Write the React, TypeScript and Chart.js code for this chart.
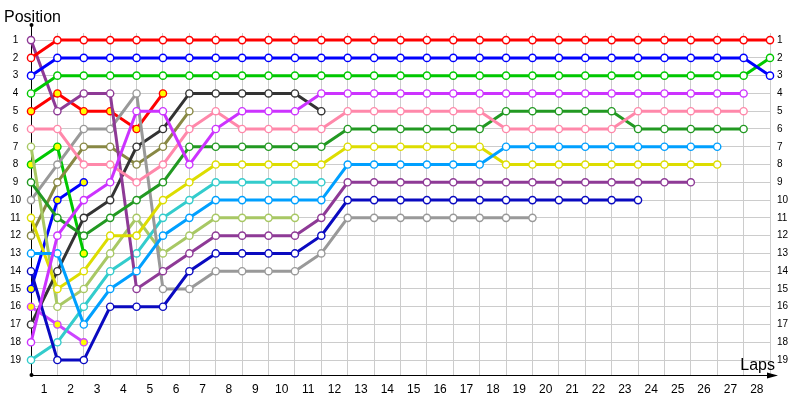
import React, { useEffect, useRef } from "react";
import { Chart, registerables } from "chart.js";

Chart.register(...registerables);

// ---------- DATA ----------
const lapNumbers = [0, 1, 2, 3, 4, 5, 6, 7, 8, 9, 10, 11, 12, 13, 14, 15, 16, 17, 18, 19, 20, 21, 22, 23, 24, 25, 26, 27, 28];
const lapLabels = ["1", "2", "3", "4", "5", "6", "7", "8", "9", "10", "11", "12", "13", "14", "15", "16", "17", "18", "19", "20", "21", "22", "23", "24", "25", "26", "27", "28"];
const positionTicks = [1, 2, 3, 4, 5, 6, 7, 8, 9, 10, 11, 12, 13, 14, 15, 16, 17, 18, 19];

// positions per lap (index 0 = grid)
const redDriver = [2, 1, 1, 1, 1, 1, 1, 1, 1, 1, 1, 1, 1, 1, 1, 1, 1, 1, 1, 1, 1, 1, 1, 1, 1, 1, 1, 1, 1];
const blueDriver = [3, 2, 2, 2, 2, 2, 2, 2, 2, 2, 2, 2, 2, 2, 2, 2, 2, 2, 2, 2, 2, 2, 2, 2, 2, 2, 2, 2, 3];
const greenDriver = [4, 3, 3, 3, 3, 3, 3, 3, 3, 3, 3, 3, 3, 3, 3, 3, 3, 3, 3, 3, 3, 3, 3, 3, 3, 3, 3, 3, 2];
const violetDriver = [18, 12, 10, 9, 5, 5, 8, 6, 5, 5, 5, 4, 4, 4, 4, 4, 4, 4, 4, 4, 4, 4, 4, 4, 4, 4, 4, 4];
const pinkDriver = [6, 6, 8, 8, 9, 8, 6, 5, 6, 6, 6, 6, 5, 5, 5, 5, 5, 5, 6, 6, 6, 6, 6, 5, 5, 5, 5, 5];
const darkGreenDriver = [9, 11, 12, 11, 10, 9, 7, 7, 7, 7, 7, 7, 6, 6, 6, 6, 6, 6, 5, 5, 5, 5, 5, 6, 6, 6, 6, 6];
const skyBlueDriver = [13, 13, 17, 15, 14, 12, 11, 10, 10, 10, 10, 10, 8, 8, 8, 8, 8, 8, 7, 7, 7, 7, 7, 7, 7, 7, 7];
const yellowDriver = [11, 15, 14, 12, 12, 10, 9, 8, 8, 8, 8, 8, 7, 7, 7, 7, 7, 7, 8, 8, 8, 8, 8, 8, 8, 8, 8];
const purpleDriver = [1, 5, 4, 4, 15, 14, 13, 12, 12, 12, 12, 11, 9, 9, 9, 9, 9, 9, 9, 9, 9, 9, 9, 9, 9, 9];
const navyDriver = [14, 19, 19, 16, 16, 16, 14, 13, 13, 13, 13, 12, 10, 10, 10, 10, 10, 10, 10, 10, 10, 10, 10, 10];
const grayDriver = [10, 8, 6, 6, 4, 15, 15, 14, 14, 14, 14, 13, 11, 11, 11, 11, 11, 11, 11, 11];
const blackDriver = [17, 14, 11, 10, 7, 6, 4, 4, 4, 4, 4, 5];
const tealDriver = [19, 18, 16, 14, 13, 11, 10, 9, 9, 9, 9, 9];
const limeDriver = [7, 16, 15, 13, 11, 13, 12, 11, 11, 11, 11];
const oliveDriver = [12, 9, 7, 7, 8, 7, 5];
const redRetired = [5, 4, 5, 5, 6, 4];
const greenRetired = [8, 7, 13];
const blueRetired = [15, 10, 9];
const violetRetired = [16, 17, 18];

// ---------- STYLES ----------
const series = [
  { data: redDriver, color: "#ff0000", retired: false },
  { data: blueDriver, color: "#0000ff", retired: false },
  { data: greenDriver, color: "#00c800", retired: false },
  { data: violetDriver, color: "#cc33ff", retired: false },
  { data: pinkDriver, color: "#ff88aa", retired: false },
  { data: darkGreenDriver, color: "#229922", retired: false },
  { data: skyBlueDriver, color: "#00a0ff", retired: false },
  { data: yellowDriver, color: "#dddd00", retired: false },
  { data: purpleDriver, color: "#8e3a96", retired: false },
  { data: navyDriver, color: "#0a0ac0", retired: false },
  { data: grayDriver, color: "#999999", retired: false },
  { data: blackDriver, color: "#333333", retired: false },
  { data: tealDriver, color: "#33cccc", retired: false },
  { data: limeDriver, color: "#a8c864", retired: false },
  { data: oliveDriver, color: "#888844", retired: false },
  { data: redRetired, color: "#ff0000", retired: true },
  { data: greenRetired, color: "#00c800", retired: true },
  { data: blueRetired, color: "#0000ff", retired: true },
  { data: violetRetired, color: "#cc44ff", retired: true },
];

const GRID = "#cccccc";
const FONT = "'Liberation Sans', Arial, sans-serif";

const decorPlugin = {
  id: "decor",
  afterDraw(chart: any) {
    const { ctx, chartArea } = chart;
    const { left, right, top, bottom } = chartArea;
    ctx.save();
    ctx.strokeStyle = "#000";
    ctx.fillStyle = "#000";
    ctx.lineWidth = 1;
    // y axis extension above chart area
    ctx.beginPath();
    ctx.moveTo(left + 0.5, top - 8);
    ctx.lineTo(left + 0.5, top);
    ctx.stroke();
    // dots
    ctx.beginPath();
    ctx.arc(left + 0.5, top - 8, 2, 0, Math.PI * 2);
    ctx.fill();
    ctx.beginPath();
    ctx.arc(left + 0.5, bottom, 2, 0, Math.PI * 2);
    ctx.fill();
    // x axis arrow
    ctx.beginPath();
    ctx.moveTo(right, bottom + 0.5);
    ctx.lineTo(right + 4, bottom + 0.5);
    ctx.stroke();
    ctx.beginPath();
    ctx.moveTo(right - 3, bottom - 2.5);
    ctx.lineTo(right + 8, bottom + 0.5);
    ctx.lineTo(right - 3, bottom + 3.5);
    ctx.closePath();
    ctx.fill();
    // titles
    ctx.font = `16px ${FONT}`;
    ctx.textAlign = "left";
    ctx.textBaseline = "alphabetic";
    ctx.fillText("Position", 4, 22);
    ctx.textAlign = "right";
    ctx.fillText("Laps", right + 5, bottom - 5);
    ctx.restore();
  },
};

export default function App() {
  const canvasRef = useRef<HTMLCanvasElement | null>(null);

  useEffect(() => {
    if (!canvasRef.current) return;
    const datasets = series.map((s) => ({
      data: s.data.map((v, i) => ({ x: lapNumbers[i], y: v })),
      borderColor: s.color,
      backgroundColor: s.color,
      borderWidth: 3,
      pointRadius: 3.6,
      pointBorderWidth: 1.4,
      pointBorderColor: s.color,
      pointBackgroundColor: s.retired ? "#ffff00" : "#ffffff",
      tension: 0,
      clip: false as any,
    }));

    const chart = new Chart(canvasRef.current, {
      type: "line",
      data: { datasets },
      options: {
        animation: false,
        responsive: false,
        events: [],
        layout: { padding: { top: 33, left: 0, right: 0, bottom: 0 } },
        plugins: { legend: { display: false }, tooltip: { enabled: false } },
        scales: {
          x: {
            type: "linear",
            min: lapNumbers[0],
            max: lapNumbers[lapNumbers.length - 1],
            afterBuildTicks: (scale: any) => {
              const t: any[] = [];
              lapNumbers.forEach((l) => t.push({ value: l }));
              lapLabels.forEach((_, i) => t.push({ value: lapNumbers[i] + 0.5 }));
              t.sort((a, b) => a.value - b.value);
              scale.ticks = t;
            },
            afterFit: (scale: any) => {
              scale.height = 25;
            },
            grid: {
              drawTicks: false,
              color: (c: any) => (c.tick && Number.isInteger(c.tick.value) ? GRID : "rgba(0,0,0,0)"),
            },
            border: { color: "#000", width: 1 },
            ticks: {
              autoSkip: false,
              maxRotation: 0,
              padding: 7,
              color: "#000",
              font: { family: FONT, size: 12 },
              callback: (v: any) => (Number.isInteger(v) ? "" : lapLabels[Math.floor(v)]),
            },
          },
          y: {
            type: "linear",
            position: "left",
            reverse: true,
            min: 0.6,
            max: 19.84,
            afterBuildTicks: (scale: any) => {
              scale.ticks = positionTicks.map((v) => ({ value: v }));
            },
            afterFit: (scale: any) => {
              scale.width = 31;
            },
            grid: { drawTicks: false, color: GRID },
            border: { color: "#000", width: 1 },
            ticks: {
              padding: 10,
              crossAlign: "center",
              color: "#000",
              font: { family: FONT, size: 10 },
            },
          },
          y2: {
            type: "linear",
            position: "right",
            reverse: true,
            min: 0.6,
            max: 19.84,
            afterBuildTicks: (scale: any) => {
              scale.ticks = positionTicks.map((v) => ({ value: v }));
            },
            afterFit: (scale: any) => {
              scale.width = 30;
            },
            grid: { display: false, drawTicks: false },
            border: { display: false },
            ticks: {
              padding: 7,
              color: "#000",
              font: { family: FONT, size: 10 },
            },
          },
        },
      } as any,
      plugins: [decorPlugin],
    });
    return () => chart.destroy();
  }, []);

  return (
    <div style={{ position: "fixed", left: 0, top: 0, width: 800, height: 400, background: "#fff" }}>
      <canvas ref={canvasRef} width={800} height={400} style={{ display: "block" }} />
    </div>
  );
}
